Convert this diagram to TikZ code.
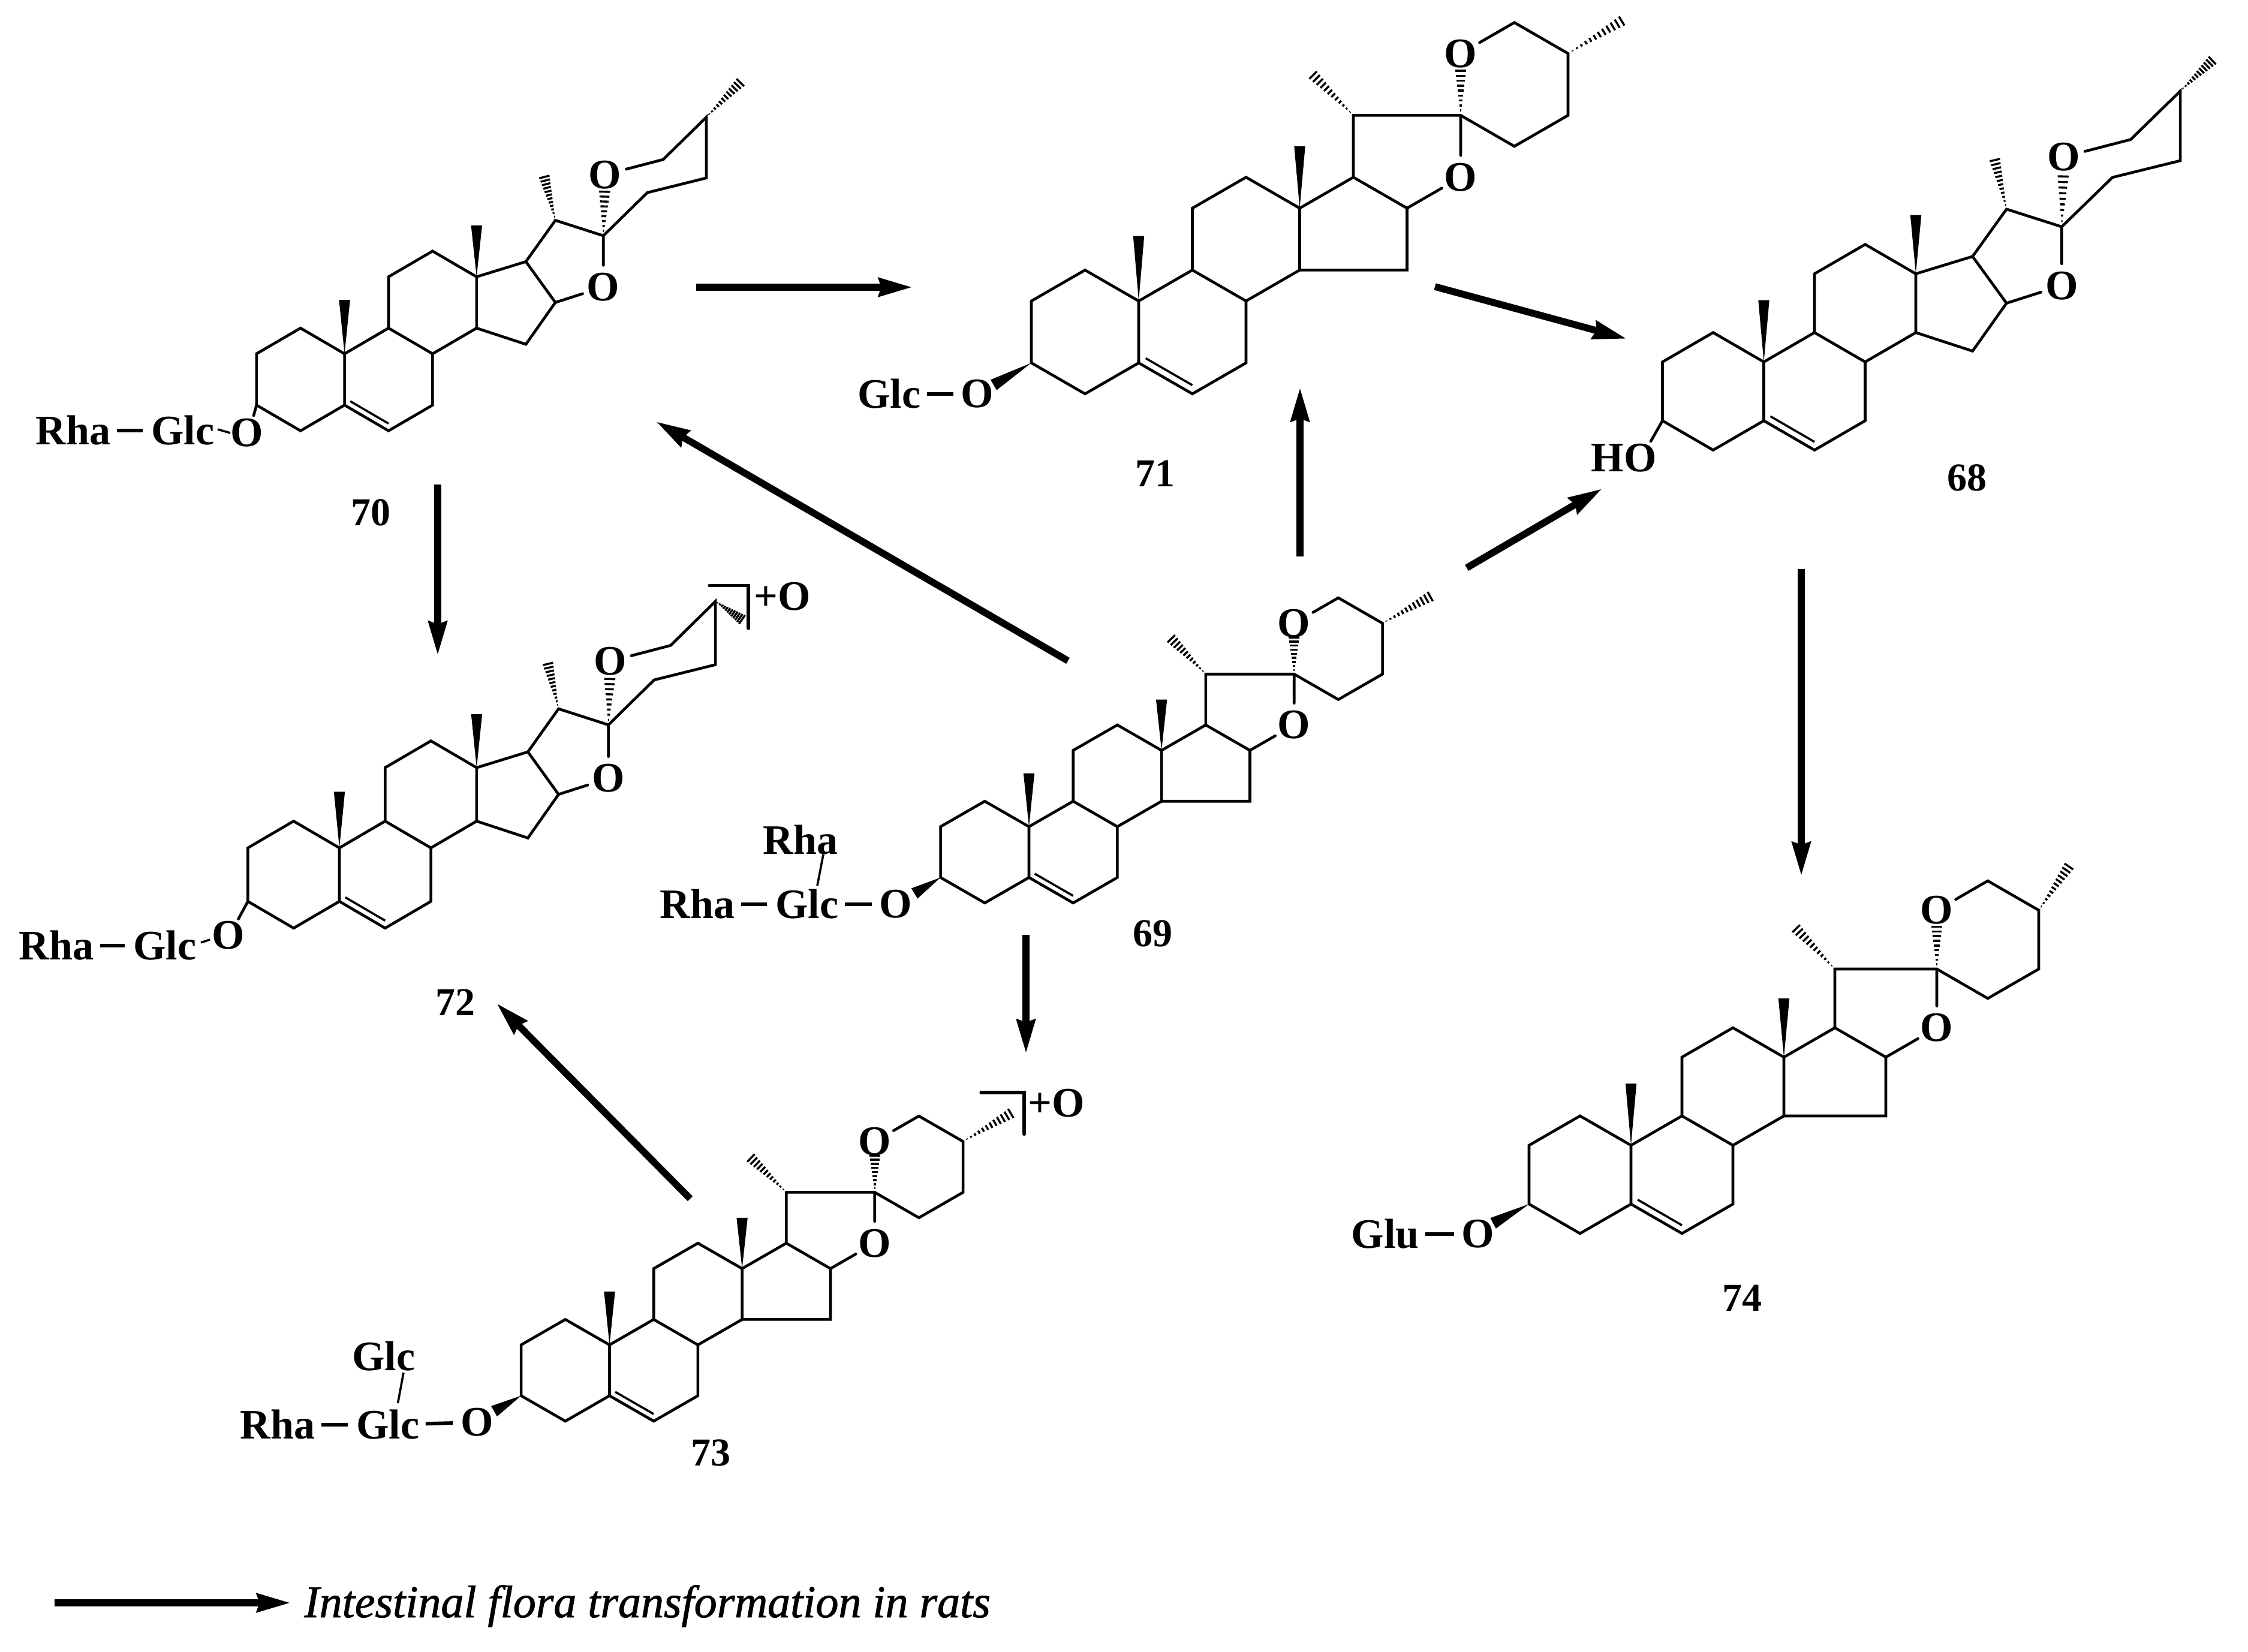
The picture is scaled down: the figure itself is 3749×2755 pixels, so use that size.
\documentclass[tikz,border=0pt]{standalone}
\usepackage{fontspec}
\setmainfont{Liberation Serif}
\newfontfamily\labfam{Liberation Serif Bold}
\newfontfamily\legfam{Liberation Serif Italic}[FakeBold=1.2]
\newfontfamily\numfam{Liberation Serif Bold}
\usetikzlibrary{calc,arrows.meta}
\tikzset{
  bond/.style={line width=2.3pt,line join=miter,line cap=round},
  dashbond/.style={line width=3pt,shorten >=2pt},
  thinbond/.style={line width=1.8pt},
  hashline/.style={line width=1.7pt},
  lab/.style={font=\labfam\fontsize{35}{40}\selectfont,inner sep=5pt},
  atomO/.style={font=\labfam\fontsize{35}{40}\selectfont,circle,inner sep=0pt,minimum size=31pt},
  numlab/.style={font=\numfam\fontsize{33}{38}\selectfont,inner sep=0pt},
  legend/.style={font=\legfam\fontsize{38}{42}\selectfont,inner sep=0pt,anchor=base west},
  arr/.style={line width=5.8pt,-{Stealth[length=28pt,width=15pt,inset=2pt]}}
}
% hashed bond: narrow at #1, wide at #2; #3 lines, #4 half width (pt at the wide end)
\newcommand{\hashbond}[4]{%
  \foreach \hashi in {1,...,#3}{%
    \pgfmathsetmacro\hashf{\hashi/#3}%
    \pgfmathsetmacro\hashw{#4*\hashi/#3}%
    \coordinate (hp) at ($(#1)!\hashf!(#2)$);
    \draw[hashline] ($(hp)!\hashw pt!90:(#1)$) -- ($(hp)!\hashw pt!-90:(#1)$);
  }%
}
% solid wedge: tip at #1, wide at #2
\newcommand{\wedgebond}[3]{%
  \fill (#1) -- ($(#2)!#3!90:(#1)$) -- ($(#2)!#3!-90:(#1)$) -- cycle;
}
\newcommand{\ringcore}[1]{%
  \coordinate (#1c10) at (0,0);
  \coordinate (#1c5) at (0,2);
  \coordinate (#1c1) at (-1,-1);
  \coordinate (#1c2) at (-2,0);
  \coordinate (#1c3) at (-2,2);
  \coordinate (#1c4) at (-1,3);
  \coordinate (#1c6) at (1,3);
  \coordinate (#1c7) at (2,2);
  \coordinate (#1c8) at (2,0);
  \coordinate (#1c9) at (1,-1);
  \coordinate (#1c11) at (1,-3);
  \coordinate (#1c12) at (2,-4);
  \coordinate (#1c13) at (3,-3);
  \coordinate (#1c14) at (3,-1);
  \coordinate (#1dba) at (0.13,1.85);
  \coordinate (#1dbb) at (1.0,2.72);
  \coordinate (#1m10) at (0,-2.1);
  \coordinate (#1m13) at (3,-5);
}
% flat E/F rings; #2,#3 = C25 methyl, #4,#5 = C20 methyl
\newcommand{\ringflat}[5]{%
  \coordinate (#1c15) at (5,-1);
  \coordinate (#1c16) at (5,-3);
  \coordinate (#1c17) at (4,-4);
  \coordinate (#1c20) at (4,-6);
  \coordinate (#1c22) at (6,-6);
  \coordinate (#1c23) at (7,-5);
  \coordinate (#1c24) at (8,-6);
  \coordinate (#1c25) at (8,-8);
  \coordinate (#1c26) at (7,-9);
  \node[atomO] (#1or) at (6,-4) {O};
  \node[atomO] (#1op) at (6,-8) {O};
  \coordinate (#1m25) at ($(8,-8)+(#2,#3)$);
  \coordinate (#1m20) at ($(4,-6)+(#4,#5)$);
}
% spiro ring drawn tilted
\newcommand{\ringtilt}[5]{%
  \coordinate (#1c15) at (4.12,-0.37);
  \coordinate (#1c16) at (4.79,-2);
  \coordinate (#1c17) at (4.12,-3.59);
  \coordinate (#1c20) at (4.79,-5.2);
  \coordinate (#1c22) at (5.88,-4.6);
  \coordinate (#1c23) at (6.88,-6.28);
  \coordinate (#1c24) at (8.22,-6.85);
  \coordinate (#1c25) at (8.22,-9.22);
  \coordinate (#1c26) at (7.24,-7.57);
  \node[atomO] (#1or) at (5.88,-2.6) {O};
  \node[atomO] (#1op) at (5.92,-6.98) {O};
  \coordinate (#1m25) at ($(8.22,-9.22)+(#2,#3)$);
  \coordinate (#1m20) at ($(4.79,-5.2)+(#4,#5)$);
}
\newcommand{\molbonds}[1]{%
  \draw[bond] (#1c5) -- (#1c10) -- (#1c1) -- (#1c2) -- (#1c3) -- (#1c4) -- (#1c5) -- (#1c6) -- (#1c7) -- (#1c8) -- (#1c9) -- (#1c10);
  \draw[bond] (#1c9) -- (#1c11) -- (#1c12) -- (#1c13) -- (#1c14) -- (#1c8);
  \draw[bond] (#1c14) -- (#1c15) -- (#1c16) -- (#1c17) -- (#1c13);
  \draw[bond] (#1c17) -- (#1c20) -- (#1c22) -- (#1c23) -- (#1c24) -- (#1c25) -- (#1c26) -- (#1op);
  \draw[bond] (#1c22) -- (#1or) -- (#1c16);
  \draw[thinbond] (#1dba) -- (#1dbb);
  \wedgebond{#1c10}{#1m10}{4.6pt}
  \wedgebond{#1c13}{#1m13}{4.6pt}
  \coordinate (#1hop) at ($(#1c22)!.72!(#1op)$);
  \hashbond{#1c22}{#1hop}{9}{4.6}
  \hashbond{#1c20}{#1m20}{12}{4.4}
  \hashbond{#1c25}{#1m25}{12}{4.4}
}
\begin{document}
\begin{tikzpicture}[x=0.5pt,y=-0.5pt]
\useasboundingbox (0,0) rectangle (3749,2755);
\fill[white] (0,0) rectangle (3749,2755);

% 70
\begin{scope}[shift={(574.6,590)},x=36.7pt,y=-21.4pt]
  \ringcore{a}\ringtilt{a}{0.77}{-1.35}{-0.25}{-1.69}\molbonds{a}
\end{scope}
\node[lab] (arha) at (122,718) {Rha};
\node[lab] (aglc) at (305,718) {Glc};
\node[atomO] (ao) at (412,722) {O};
\coordinate (aoe) at (423,693);
\coordinate (ada) at (363,716);
\coordinate (adb) at (384,722);
\draw[bond] (ac3) -- (aoe);
\draw[dashbond] (arha) -- (aglc);
\draw[thinbond] (ada) -- (adb);
\node[numlab] (an) at (618,855) {70};

% 71
\begin{scope}[shift={(1899,502)},x=44.75pt,y=-25.8pt]
  \ringcore{b}\ringflat{b}{1.0}{-1.05}{-0.75}{-1.3}\molbonds{b}
\end{scope}
\node[lab] (bglc) at (1483,657) {Glc};
\node[atomO] (bo) at (1630,657) {O};
\coordinate (bw) at (1657,642);
\wedgebond{bc3}{bw}{5pt}
\draw[dashbond] (bglc) -- (bo);
\node[numlab] (bn) at (1926,790) {71};

% 68
\begin{scope}[shift={(2941.5,603.6)},x=42.25pt,y=-24.5pt]
  \ringcore{c}\ringtilt{c}{0.63}{-1.04}{-0.23}{-1.67}\molbonds{c}
\end{scope}
\node[lab] (cho) at (2708,764) {HO};
\coordinate (coe) at (2753,736);
\draw[bond] (cc3) -- (coe);
\node[numlab] (cn) at (3280,797) {68};

% 72
\begin{scope}[shift={(566,1414)},x=38.15pt,y=-22.3pt]
  \ringcore{d}\ringtilt{d}{0.58}{0.68}{-0.23}{-1.68}\molbonds{d}
\end{scope}
\node[lab] (drha) at (94,1577) {Rha};
\node[lab] (dglc) at (275,1577) {Glc};
\node[atomO] (do) at (381,1560) {O};
\coordinate (doe) at (397.5,1532.6);
\coordinate (dda) at (335,1572);
\coordinate (ddb) at (350,1567);
\draw[bond] (dc3) -- (doe);
\draw[dashbond] (drha) -- (dglc);
\draw[thinbond] (dda) -- (ddb);
\coordinate (dbra) at (1183,976.5);
\coordinate (dbrb) at (1248,976.5);
\coordinate (dbrc) at (1248,1048);
\draw[bond,line width=2.6pt] (dbra) -- (dbrb) -- (dbrc);
\node[lab] (dplus) at (1305,995) {+O};
\node[numlab] (dn) at (759,1672) {72};

% 69
\begin{scope}[shift={(1716,1378.6)},x=36.85pt,y=-21.2pt]
  \ringcore{e}\ringflat{e}{1.08}{-1.05}{-0.78}{-1.39}\molbonds{e}
\end{scope}
\node[lab] (erhb) at (1335,1401) {Rha};
\node[lab] (erha) at (1163,1508) {Rha};
\node[lab] (eglc) at (1346,1508) {Glc};
\node[atomO] (eo) at (1494,1508) {O};
\coordinate (ew) at (1525,1490);
\coordinate (ela) at (1373,1425);
\coordinate (elb) at (1363,1477);
\wedgebond{ec3}{ew}{5pt}
\draw[dashbond] (erha) -- (eglc);
\draw[dashbond] (eglc) -- (eo);
\draw[thinbond] (ela) -- (elb);
\node[numlab] (en) at (1922,1557) {69};

% 73
\begin{scope}[shift={(1016.5,2242.8)},x=36.85pt,y=-21.2pt]
  \ringcore{f}\ringflat{f}{1.08}{-1.1}{-0.8}{-1.35}\molbonds{f}
\end{scope}
\node[lab] (fglt) at (640,2262) {Glc};
\node[lab] (frha) at (463,2376) {Rha};
\node[lab] (fglc) at (647,2376) {Glc};
\node[atomO] (fo) at (795.5,2372) {O};
\coordinate (fw) at (824,2353.5);
\coordinate (fla) at (673,2289);
\coordinate (flb) at (663.5,2340);
\wedgebond{fc3}{fw}{5pt}
\draw[dashbond] (frha) -- (fglc);
\draw[dashbond] (fglc) -- (fo);
\draw[thinbond] (fla) -- (flb);
\coordinate (fbra) at (1636,1822);
\coordinate (fbrb) at (1708,1822);
\coordinate (fbrc) at (1708,1891.5);
\draw[bond,line width=2.6pt] (fbra) -- (fbrb) -- (fbrc);
\node[lab] (fplus) at (1762,1840) {+O};
\node[numlab] (fn) at (1185,2423) {73};

% 74
\begin{scope}[shift={(2720,1910)},x=42.5pt,y=-24.5pt]
  \ringcore{g}\ringflat{g}{0.59}{-1.49}{-0.76}{-1.375}\molbonds{g}
\end{scope}
\node[lab] (gglu) at (2310,2058) {Glu};
\node[atomO] (go) at (2465,2058) {O};
\coordinate (gw) at (2490,2040);
\wedgebond{gc3}{gw}{5pt}
\draw[dashbond] (gglu) -- (go);
\node[numlab] (gn) at (2905,2165) {74};

% arrows
\coordinate (p1a) at (1161,479); \coordinate (p1b) at (1522,479);
\coordinate (p2a) at (2393,478); \coordinate (p2b) at (2713,565);
\coordinate (p3a) at (2168,928); \coordinate (p3b) at (2168,646);
\coordinate (p4a) at (2446,947); \coordinate (p4b) at (2672,815);
\coordinate (p5a) at (1781,1102); \coordinate (p5b) at (1094,703);
\coordinate (p6a) at (730,808); \coordinate (p6b) at (730,1093);
\coordinate (p7a) at (1711,1559); \coordinate (p7b) at (1711,1757);
\coordinate (p8a) at (1151,1999); \coordinate (p8b) at (828,1673);
\coordinate (p9a) at (3004,949); \coordinate (p9b) at (3004,1461);
\coordinate (p0a) at (91,2673); \coordinate (p0b) at (485,2673);
\foreach \arri in {0,...,9}{\draw[arr] (p\arri a) -- (p\arri b);}
\node[legend] (legendtext) at (507,2697) {Intestinal flora transformation in rats};
\end{tikzpicture}
\end{document}
